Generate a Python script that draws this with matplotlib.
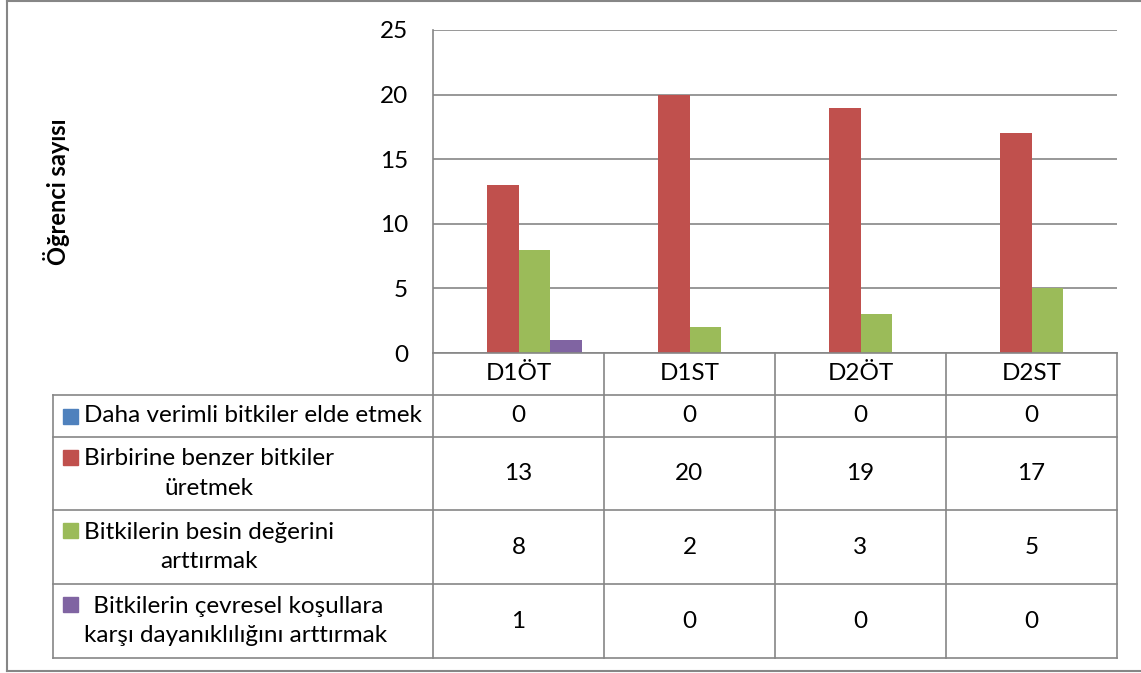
import numpy as np
import matplotlib.pyplot as plt
from matplotlib.patches import Rectangle
from matplotlib.lines import Line2D

plt.rcParams['font.family'] = ['Lato', 'DejaVu Sans']

# Data
categories = ["D1ÖT", "D1ST", "D2ÖT", "D2ST"]
series_names = [
    "Daha verimli bitkiler elde etmek",
    "Birbirine benzer bitkiler\nüretmek",
    "Bitkilerin besin değerini\narttırmak",
    " Bitkilerin çevresel koşullara\nkarşı dayanıklılığını arttırmak",
]
verimli = [0, 0, 0, 0]
benzer = [13, 20, 19, 17]
besin = [8, 2, 3, 5]
cevresel = [1, 0, 0, 0]
series_values = [verimli, benzer, besin, cevresel]
colors = ["#4F81BD", "#C0504D", "#9BBB59", "#8064A2"]
y_ticks = [0, 5, 10, 15, 20, 25]

W, H = 1141, 673
fig = plt.figure(figsize=(W / 100, H / 100), dpi=100)
grid_c = "#868686"
fs = 17.5

# pixel layout
px_left, px_right, px_top, px_base = 433, 1117, 30, 353
tab_left, tab_bottom = 53, 658
col_w = (px_right - px_left) / len(categories)

# ==========================
# BAR AXES
# ==========================
ax = fig.add_axes([px_left / W, 1 - px_base / H,
                   (px_right - px_left) / W, (px_base - px_top) / H])
x = np.arange(len(categories))
bw = 31.5 / col_w
for i, vals in enumerate(series_values):
    ax.bar(x + (i - 1.5) * bw, vals, width=bw, color=colors[i], zorder=3)

ax.set_xlim(-0.5, len(categories) - 0.5)
ax.set_ylim(0, 25)
ax.set_yticks(y_ticks)
ax.set_xticks([])
ax.tick_params(axis="y", length=0, pad=18, labelsize=fs)
ax.yaxis.grid(True, color=grid_c, linewidth=1.2, zorder=0)
for s in ["top", "right", "bottom"]:
    ax.spines[s].set_visible(False)
ax.spines["left"].set_color(grid_c)
ax.spines["left"].set_linewidth(1.2)

fig.text(57 / W, 1 - 192 / H, "Öğrenci sayısı", rotation=90, fontsize=17,
         fontweight="bold", ha="center", va="center")

# ==========================
# DATA TABLE
# ==========================
tax = fig.add_axes([tab_left / W, 1 - tab_bottom / H,
                    (px_right - tab_left) / W, (tab_bottom - px_base) / H])
lab_w = (px_left - tab_left) / col_w
tax.set_xlim(-0.5 - lab_w, len(categories) - 0.5)
rows = [0, 42, 84, 157, 231, 305]
tax.set_ylim(rows[-1], rows[0])
tax.axis("off")

lkw = dict(color=grid_c, linewidth=1.2, clip_on=False)
x0, x1 = -0.5 - lab_w, len(categories) - 0.5
tax.plot([-0.5, x1], [rows[0], rows[0]], **lkw)
for r in rows[1:]:
    tax.plot([x0, x1], [r, r], **lkw)
tax.plot([x0, x0], [rows[1], rows[-1]], **lkw)
for k in range(len(categories) + 1):
    tax.plot([k - 0.5, k - 0.5], [rows[0], rows[-1]], **lkw)

for j, c in enumerate(categories):
    tax.text(j, (rows[0] + rows[1]) / 2, c, ha="center", va="center", fontsize=fs)

px = 1 / col_w
for i, (name, vals) in enumerate(zip(series_names, series_values)):
    yc = (rows[i + 1] + rows[i + 2]) / 2
    nl = name.count("\n") + 1
    first_y = yc - (nl - 1) * 17
    tax.add_patch(Rectangle((x0 + 10 * px, first_y - 7), 15 * px, 15,
                            color=colors[i], clip_on=False))
    tax.text(x0 + 31 * px, yc, name, ha="left", va="center", fontsize=fs,
             multialignment="center", linespacing=1.5)
    for j, v in enumerate(vals):
        tax.text(j, yc, str(v), ha="center", va="center", fontsize=fs)

# outer border
okw = dict(color=grid_c, linewidth=1.5)
fig.add_artist(Line2D([7 / W, 7 / W], [1 - 1 / H, 1 - 671 / H], **okw))
fig.add_artist(Line2D([7 / W, 1], [1 - 1 / H, 1 - 1 / H], **okw))
fig.add_artist(Line2D([7 / W, 1], [1 - 671 / H, 1 - 671 / H], **okw))

plt.savefig("out.png", dpi=100)
